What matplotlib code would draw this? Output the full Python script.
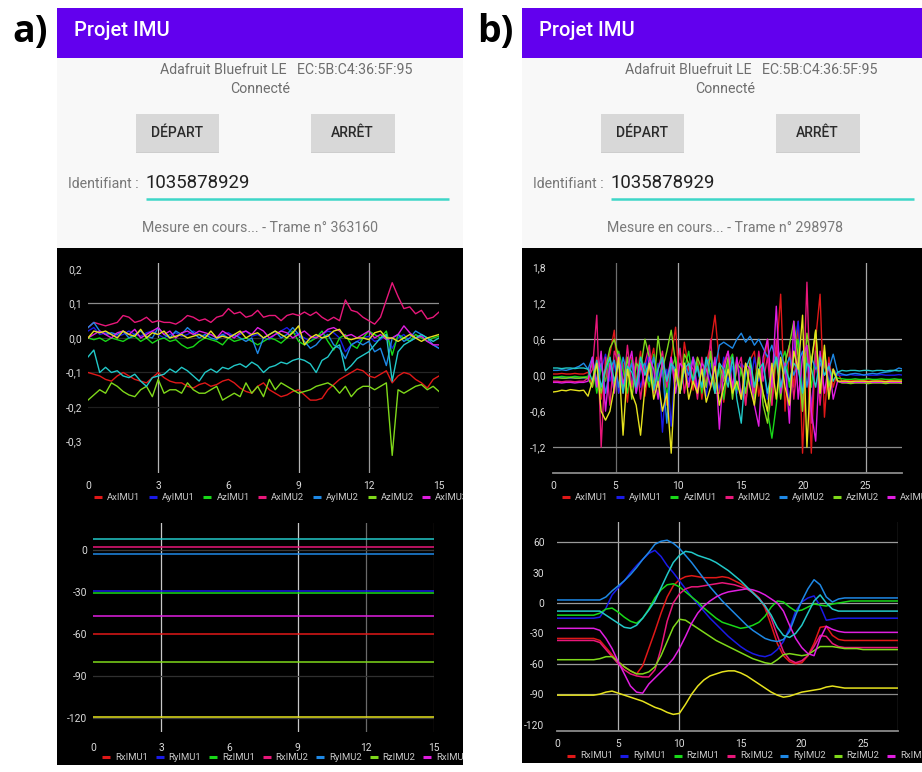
import numpy as np
import matplotlib
matplotlib.use("Agg")
import matplotlib.pyplot as plt
from matplotlib.patches import Rectangle

plt.rcParams['font.family'] = ['Roboto', 'DejaVu Sans']

# ---------------- data ----------------
acc_names = ["AxIMU1", "AyIMU1", "AzIMU1", "AxIMU2", "AyIMU2", "AzIMU2", "AxIMU3", "AyIMU3", "AzIMU3"]
rot_names = ["RxIMU1", "RyIMU1", "RzIMU1", "RxIMU2", "RyIMU2", "RzIMU2", "RxIMU3", "RyIMU3", "RzIMU3"]
series_colors = ['#E01818', '#1A1AE6', '#18D818', '#E8177A', '#1E88E5', '#7FD81A', '#E01EE0', '#22C8C8', '#E6E21E']

# panel a, accelerations (s, g), sampled every 0.25 s
a1_time = np.arange(61) * 0.25
a1_ax1 = [-0.100,-0.105,-0.110,-0.120,-0.125,-0.110,-0.100,-0.110,-0.120,-0.125,
          -0.130,-0.115,-0.100,-0.115,-0.125,-0.130,-0.130,-0.140,-0.145,-0.135,
          -0.130,-0.140,-0.135,-0.125,-0.120,-0.130,-0.145,-0.155,-0.160,-0.140,
          -0.130,-0.150,-0.160,-0.170,-0.165,-0.155,-0.150,-0.165,-0.180,-0.180,
          -0.175,-0.150,-0.135,-0.120,-0.110,-0.100,-0.090,-0.095,-0.110,-0.115,
          -0.105,-0.095,-0.130,-0.110,-0.100,-0.105,-0.120,-0.130,-0.145,-0.120,
          -0.110]
a1_ay1 = [0.020,0.030,0.010,0.015,0.010,0.005,0.010,0.020,0.010,0.005,
          0.015,0.020,0.010,0.000,0.010,0.015,0.005,0.010,0.020,0.010,
          0.005,0.010,0.000,0.010,0.015,0.005,0.010,0.020,0.005,0.010,
          0.000,-0.005,0.010,0.020,0.030,0.015,0.010,0.000,-0.010,0.005,
          0.010,0.020,0.015,0.000,-0.040,-0.020,-0.010,0.000,0.005,-0.010,
          -0.005,0.010,-0.030,0.000,0.010,-0.010,0.000,0.005,-0.010,-0.020,
          -0.030]
a1_az1 = [0.000,-0.005,0.000,-0.010,0.000,-0.005,-0.010,0.000,0.005,-0.010,
          0.000,-0.015,-0.005,0.000,-0.010,-0.005,-0.020,-0.030,-0.025,-0.010,
          0.000,-0.005,-0.010,-0.020,0.000,-0.010,-0.005,0.000,-0.010,-0.020,
          -0.010,0.000,-0.005,-0.015,0.000,0.020,-0.010,-0.020,-0.010,0.000,
          0.020,-0.010,-0.035,0.000,0.010,-0.020,-0.030,0.000,0.020,0.010,
          0.000,0.020,-0.050,0.010,0.000,-0.010,0.010,0.000,-0.010,0.000,
          0.005]
a1_ax2 = [0.030,0.045,0.040,0.035,0.040,0.045,0.065,0.060,0.045,0.050,
          0.060,0.045,0.050,0.045,0.045,0.040,0.050,0.065,0.060,0.050,
          0.055,0.045,0.060,0.065,0.085,0.070,0.075,0.060,0.065,0.080,
          0.060,0.065,0.065,0.050,0.065,0.070,0.065,0.075,0.065,0.075,
          0.060,0.050,0.060,0.050,0.110,0.080,0.075,0.060,0.050,0.040,
          0.060,0.110,0.160,0.120,0.085,0.090,0.070,0.080,0.055,0.060,
          0.075]
a1_ay2 = [0.030,0.045,0.020,0.010,0.015,0.010,0.020,0.000,0.010,0.020,
          0.005,0.000,0.030,0.010,0.000,0.020,0.010,0.030,0.015,0.000,
          0.010,0.000,-0.005,0.010,0.000,0.010,0.000,-0.010,0.000,-0.045,
          0.000,0.010,0.020,0.000,0.010,0.030,0.010,-0.010,-0.030,-0.020,
          0.000,0.010,-0.020,-0.030,-0.060,-0.020,-0.010,-0.020,-0.010,-0.040,
          -0.030,-0.080,0.000,0.010,-0.010,0.000,0.020,0.010,0.000,-0.020,
          -0.030]
a1_az2 = [-0.180,-0.165,-0.150,-0.160,-0.130,-0.140,-0.155,-0.165,-0.170,-0.150,
          -0.140,-0.170,-0.120,-0.160,-0.150,-0.150,-0.160,-0.130,-0.150,-0.160,
          -0.160,-0.150,-0.140,-0.180,-0.170,-0.160,-0.170,-0.130,-0.160,-0.140,
          -0.170,-0.120,-0.150,-0.130,-0.140,-0.150,-0.160,-0.155,-0.150,-0.140,
          -0.135,-0.130,-0.140,-0.160,-0.140,-0.170,-0.150,-0.140,-0.140,-0.150,
          -0.140,-0.130,-0.340,-0.150,-0.160,-0.150,-0.140,-0.135,-0.150,-0.140,
          -0.155]
a1_ax3 = [0.000,0.010,0.020,0.010,0.000,0.015,0.020,0.010,0.025,0.000,
          0.010,0.020,0.030,0.010,0.020,0.000,0.015,0.020,0.010,0.020,
          0.015,0.010,0.000,0.020,0.010,0.000,0.015,0.020,0.010,0.030,
          0.020,0.000,0.010,0.020,0.015,0.000,0.010,0.020,0.005,0.000,
          0.010,0.025,0.030,0.020,0.005,0.010,0.000,0.010,0.020,0.000,
          0.010,-0.005,0.000,0.010,0.035,0.015,0.000,0.005,-0.010,-0.020,
          -0.020]
a1_ay3 = [-0.055,-0.035,-0.100,-0.085,-0.100,-0.095,-0.110,-0.115,-0.105,-0.125,
          -0.140,-0.115,-0.110,-0.105,-0.090,-0.100,-0.085,-0.095,-0.110,-0.125,
          -0.100,-0.090,-0.100,-0.085,-0.090,-0.080,-0.075,-0.085,-0.070,-0.080,
          -0.100,-0.085,-0.080,-0.070,-0.075,-0.065,-0.060,-0.065,-0.075,-0.100,
          -0.065,-0.055,-0.030,-0.020,-0.095,-0.080,-0.060,-0.050,-0.040,-0.020,
          0.000,0.010,-0.125,-0.040,-0.020,-0.010,0.000,0.010,0.000,-0.010,
          0.000]
a1_az3 = [0.000,0.020,0.015,0.020,0.010,0.000,0.020,0.010,0.005,0.025,
          0.000,0.015,0.010,0.020,0.000,0.005,0.010,0.000,0.005,0.010,
          0.000,0.020,0.000,0.005,0.000,0.010,0.020,0.000,0.010,0.015,
          0.000,0.010,0.020,0.010,0.000,0.015,0.035,-0.020,0.000,0.010,
          0.000,0.005,0.020,0.025,0.000,-0.005,0.000,0.000,-0.005,0.015,
          0.020,0.000,0.000,-0.010,0.000,0.010,0.000,-0.010,0.000,0.005,
          0.010]

# panel a, rotations (constant, deg)
a2_time = [0, 15]
a2_levels = [-60, -29, -31, 2, -3, -80, -47, 8, -119]

# panel b, accelerations, sampled every 0.35 s
b1_time = np.arange(81) * 0.35
b1_ax1 = [0.02,0.02,0.03,0.02,0.02,0.03,0.02,0.02,0.05,
          -0.20,0.30,-0.40,0.10,0.35,0.75,-0.30,0.20,-0.45,0.30,-0.10,0.40,
          -0.35,0.15,0.45,-0.20,0.10,-0.50,0.30,0.80,-0.30,0.55,0.10,-0.25,
          0.30,-0.40,0.20,0.50,1.00,0.20,-0.45,0.10,0.35,-0.30,0.20,-0.50,
          0.25,0.40,-0.35,0.10,0.60,-0.50,0.30,1.35,-0.60,0.40,-0.20,0.90,
          -1.30,0.50,-1.30,0.60,1.35,-0.70,0.30,-0.20,0.05,
          -0.10,-0.08,-0.09,-0.08,-0.08,-0.09,-0.08,-0.08,-0.09,-0.08,-0.08,-0.09,-0.08,-0.08,-0.08]
b1_ay1 = [-0.05,-0.05,-0.04,-0.05,-0.05,-0.04,-0.05,-0.05,-0.03,
          0.25,-0.20,0.10,0.35,-0.10,0.20,-0.30,0.05,0.30,-0.15,0.20,-0.20,
          0.10,0.40,-0.10,0.20,-0.95,0.10,-0.85,0.20,-0.30,0.15,-0.10,0.30,
          -0.20,0.10,-0.35,0.20,0.05,-0.25,0.30,-0.10,0.15,-0.30,0.20,0.10,
          -0.20,0.30,-0.10,0.20,-0.40,0.10,0.30,-0.30,0.20,-0.50,0.40,0.90,
          -0.30,0.30,-0.50,0.20,-0.20,0.35,-0.10,0.10,0.00,
          0.00,0.00,0.01,0.00,0.00,0.01,0.00,0.00,0.00,0.01,0.00,0.00,0.00,0.01,0.00]
b1_az1 = [-0.03,-0.03,-0.02,-0.03,-0.03,-0.02,-0.03,-0.03,-0.02,
          0.20,-0.30,0.15,-0.10,0.30,-0.20,0.40,0.10,-0.30,0.25,-0.15,0.30,
          0.10,-0.20,0.35,-0.10,0.20,-0.35,0.10,0.30,-0.20,0.10,0.40,-0.15,
          0.20,-0.30,0.15,0.30,-0.20,0.10,-0.40,0.20,0.35,-0.25,0.10,-0.30,
          0.20,-0.40,0.10,-0.30,-0.60,-1.05,-0.50,0.20,0.40,-0.20,0.30,0.60,
          -0.40,0.30,-0.20,0.40,-0.30,0.20,-0.15,0.05,-0.05,
          -0.06,-0.07,-0.07,-0.06,-0.07,-0.07,-0.06,-0.07,-0.07,-0.06,-0.07,-0.07,-0.06,-0.07,-0.07]
b1_ax2 = [-0.10,-0.10,-0.11,-0.10,-0.10,-0.11,-0.10,-0.10,-0.05,
          0.10,1.00,-1.20,0.30,-0.50,0.40,0.20,-0.30,0.50,-0.20,0.30,-0.40,
          0.20,0.50,-0.30,0.10,0.40,-0.20,0.30,-0.10,0.45,-0.30,0.20,0.10,
          -0.40,0.30,-0.20,0.60,-0.30,-0.30,0.20,0.40,-0.30,0.10,0.30,-0.50,
          0.20,-0.30,0.40,-0.10,0.30,-0.50,0.60,-0.30,0.20,0.50,-0.40,0.30,
          -0.60,1.55,-0.80,0.40,-0.50,0.30,-0.30,0.10,-0.10,
          -0.12,-0.12,-0.13,-0.12,-0.12,-0.12,-0.13,-0.12,-0.12,-0.12,-0.13,-0.12,-0.12,-0.12,-0.12]
b1_ay2 = [0.08,0.08,0.09,0.08,0.10,0.12,0.15,0.20,0.10,
          0.30,-0.10,0.20,-0.30,0.10,0.25,-0.20,0.30,0.00,0.20,-0.30,0.10,
          0.20,-0.10,0.30,-0.20,0.10,-0.80,0.20,0.10,-0.30,0.20,0.00,0.30,
          0.10,-0.20,0.20,0.30,0.10,0.50,0.55,0.50,0.45,0.60,0.70,0.55,
          0.65,0.50,0.60,0.45,0.30,0.50,0.20,0.40,0.10,0.30,0.00,0.20,
          0.40,-0.20,0.30,0.10,0.20,0.00,0.10,0.35,0.05,
          0.02,0.00,0.02,0.03,0.02,0.00,0.02,0.03,0.02,0.04,0.05,0.06,0.08,0.12,0.10]
b1_az2 = [-0.05,-0.04,-0.05,-0.05,-0.04,-0.05,-0.05,-0.04,-0.05,
          -0.20,0.20,-0.30,0.10,0.45,0.60,0.30,-0.20,0.30,-0.40,0.20,0.10,
          0.60,0.30,-0.20,0.65,0.10,0.40,0.75,0.20,-0.30,0.35,0.20,-0.10,
          0.30,0.10,-0.20,0.40,-0.30,0.20,-0.10,0.30,-0.40,0.20,0.10,-0.30,
          0.20,-0.20,0.30,-0.50,-0.80,-0.20,0.30,-0.40,0.20,0.50,0.90,0.30,
          -0.60,0.70,0.20,0.75,-0.30,0.40,-0.20,0.10,-0.10,
          -0.13,-0.13,-0.14,-0.13,-0.13,-0.13,-0.14,-0.13,-0.13,-0.13,-0.14,-0.13,-0.13,-0.13,-0.14]
b1_ax3 = [-0.12,-0.12,-0.13,-0.12,-0.12,-0.13,-0.12,-0.12,-0.10,
          0.30,-0.20,0.40,-0.60,0.20,-0.30,0.35,-0.15,0.10,0.40,-0.30,0.20,
          -0.20,0.30,0.10,-0.40,0.25,-0.10,0.30,-0.30,0.20,0.10,-0.20,0.30,
          -0.30,0.20,0.10,-0.20,0.30,-0.90,0.10,0.40,-0.20,0.30,-0.40,0.20,
          0.10,-0.50,-0.85,0.30,0.60,-0.20,1.15,-0.30,0.20,-0.80,0.90,-0.40,
          0.30,0.50,-0.60,-1.10,0.40,-0.30,0.20,-0.40,-0.10,
          -0.12,-0.12,-0.11,-0.12,-0.12,-0.12,-0.11,-0.12,-0.12,-0.12,-0.11,-0.12,-0.12,-0.12,-0.12]
b1_ay3 = [0.12,0.12,0.11,0.12,0.12,0.11,0.12,0.12,0.10,
          -0.10,0.25,-0.20,0.10,0.30,-0.10,0.20,-0.30,0.15,0.05,-0.20,0.30,
          0.00,0.20,-0.25,0.10,0.30,-0.10,0.20,0.05,-0.30,0.10,0.20,-0.10,
          0.15,-0.20,0.30,0.00,-0.30,0.20,0.10,-0.20,0.30,-0.40,-0.80,0.10,
          0.30,-0.20,0.10,0.20,-0.30,0.10,0.30,-0.20,0.15,-0.10,0.20,0.10,
          -0.30,0.20,0.10,-0.20,0.30,0.00,0.15,-0.10,0.05,
          0.08,0.07,0.08,0.08,0.07,0.08,0.08,0.07,0.08,0.08,0.07,0.08,0.08,0.07,0.08]
b1_az3 = [-0.28,-0.27,-0.25,-0.26,-0.24,-0.25,-0.26,-0.25,-0.35,
          -0.10,0.20,-0.60,-0.75,-0.60,-0.20,0.30,-1.00,0.10,-0.30,-0.50,-1.00,
          -0.20,0.20,-0.40,-0.10,-0.60,-0.30,-1.30,0.10,-0.30,0.20,-0.40,-0.10,
          -0.30,0.10,-0.45,-0.20,0.15,-0.50,-0.20,0.10,-0.30,-0.10,-0.40,0.20,
          -0.20,-0.50,0.10,-0.30,-0.60,0.20,-0.40,0.30,-0.20,-0.50,0.40,0.10,
          1.00,-1.20,0.20,0.75,-0.30,0.50,-0.40,0.10,-0.10,
          -0.10,-0.10,-0.11,-0.10,-0.10,-0.10,-0.11,-0.10,-0.10,-0.10,-0.11,-0.10,-0.10,-0.10,-0.10]

# panel b, rotations (deg), sampled every 0.5 s
b2_time = np.arange(57) * 0.5
b2_rx1 = [-35,-35,-35,-35,-35,-35,-35,-37,-44,-51,-58,-63,-67,-70,-62,-45,-28,-10,6,17,
          23,26,27,26,25,25,25,26,25,22,19,15,11,5,-5,-22,-40,-52,-58,-60,
          -59,-52,-40,-24,-23,-32,-36,-37,-37,-37,-37,-37,-37,-37,-37,-37,-37]
b2_ry1 = [-15,-15,-15,-15,-15,-15,-15,-14,-5,8,15,22,30,37,43,49,52,46,37,30,
          22,14,6,-1,-8,-15,-21,-27,-33,-38,-43,-47,-50,-52,-53,-51,-46,-38,-25,-8,
          1,5,7,-3,-17,-16,-15,-15,-15,-15,-15,-15,-15,-15,-15,-15,-15]
b2_rz1 = [-12,-12,-12,-12,-12,-12,-12,-10,-6,-5,-9,-14,-18,-20,-15,-6,5,13,18,19,
          16,11,6,1,-5,-10,-15,-19,-21,-23,-25,-24,-22,-19,-13,-4,2,1,-4,-8,
          -7,-4,-1,-2,-3,-1,0,1,2,2,2,2,2,2,2,2,2]
b2_rx2 = [-37,-37,-37,-37,-37,-37,-37,-39,-46,-53,-60,-66,-70,-72,-73,-73,-66,-45,-18,0,
          9,14,16,16,17,18,19,20,19,18,16,14,10,5,-3,-15,-32,-48,-56,-59,
          -57,-52,-43,-32,-33,-40,-43,-44,-44,-44,-44,-44,-44,-44,-44,-44,-44]
b2_ry2 = [3,3,3,3,3,3,3,3,6,12,17,22,28,35,43,50,58,61,62,59,
          54,47,40,32,24,16,9,2,-4,-10,-16,-22,-27,-31,-35,-37,-38,-36,-28,-12,
          2,14,23,18,6,1,4,5,5,5,5,5,5,5,5,5,5]
b2_rz2 = [-56,-56,-56,-56,-56,-56,-56,-55,-53,-53,-58,-63,-67,-70,-70,-68,-63,-52,-38,-24,
          -16,-17,-21,-25,-29,-33,-37,-40,-43,-46,-49,-52,-55,-57,-59,-60,-56,-51,-50,-51,
          -52,-51,-47,-43,-43,-43,-44,-45,-45,-45,-46,-46,-46,-46,-46,-46,-46]
b2_rx3 = [-25,-25,-25,-25,-25,-25,-25,-27,-35,-45,-58,-70,-82,-88,-89,-80,-74,-68,-62,-55,
          -45,-33,-20,-10,-3,2,6,9,11,12,13,14,13,11,8,4,0,-8,-22,-35,
          -44,-50,-52,-35,-23,-26,-28,-29,-29,-29,-29,-29,-29,-29,-29,-29,-29]
b2_ry3 = [-8,-8,-8,-8,-8,-8,-8,-8,-12,-16,-20,-24,-25,-22,-15,-7,2,15,28,40,
          47,51,50,47,45,43,40,36,32,27,22,16,10,4,-3,-12,-24,-32,-34,-30,
          -22,-10,2,8,0,-6,-8,-8,-8,-8,-8,-8,-8,-8,-8,-8,-8]
b2_rz3 = [-91,-91,-91,-91,-91,-91,-91,-90,-88,-87,-89,-91,-93,-95,-97,-100,-103,-105,-108,-110,
          -109,-100,-90,-82,-76,-72,-70,-68,-67,-67,-69,-72,-76,-80,-84,-88,-91,-93,-92,-90,
          -88,-87,-86,-85,-83,-82,-83,-84,-84,-84,-84,-84,-84,-84,-84,-84,-84]

a1_series = [a1_ax1, a1_ay1, a1_az1, a1_ax2, a1_ay2, a1_az2, a1_ax3, a1_ay3, a1_az3]
b1_series = [b1_ax1, b1_ay1, b1_az1, b1_ax2, b1_ay2, b1_az2, b1_ax3, b1_ay3, b1_az3]
b2_series = [b2_rx1, b2_ry1, b2_rz1, b2_rx2, b2_ry2, b2_rz2, b2_rx3, b2_ry3, b2_rz3]

a_xticks = [0, 3, 6, 9, 12, 15]
b_xticks = [0, 5, 10, 15, 20, 25]
a1_yticks = [0.2, 0.1, 0.0, -0.1, -0.2, -0.3]
a1_ylabels = ["0,2", "0,1", "0,0", "-0,1", "-0,2", "-0,3"]
a2_yticks = [0, -30, -60, -90, -120]
b1_yticks = [1.8, 1.2, 0.6, 0.0, -0.6, -1.2]
b1_ylabels = ["1,8", "1,2", "0,6", "0,0", "-0,6", "-1,2"]
b2_yticks = [60, 30, 0, -30, -60, -90, -120]

# ---------------- figure ----------------
W, H = 922, 772
fig = plt.figure(figsize=(W / 100, H / 100), dpi=100, facecolor='white')


def fbox(x0, y0, x1, y1):
    return [x0 / W, 1 - y1 / H, (x1 - x0) / W, (y1 - y0) / H]


def screen(x0, x1, bottom, frame_no):
    sa = fig.add_axes(fbox(x0, 8, x1, bottom))
    sa.set_xlim(x0, x1)
    sa.set_ylim(bottom, 8)
    sa.axis('off')
    sa.add_patch(Rectangle((x0, 8), x1 - x0, 50, color='#6200EE', lw=0))
    sa.add_patch(Rectangle((x0, 58), x1 - x0, 190, color='#F8F8F8', lw=0))
    sa.add_patch(Rectangle((x0, 248), x1 - x0, bottom - 248, color='black', lw=0))
    sa.text(x0 + 17, 31, "Projet IMU", color='white', fontsize=14.5, fontweight='medium',
            va='center', ha='left', clip_on=True)
    sa.text(x0 + 229, 70, "Adafruit Bluefruit LE   EC:5B:C4:36:5F:95", color='#6e6e6e',
            fontsize=10.2, va='center', ha='center', clip_on=True)
    sa.text(x0 + 203, 89, "Connecté", color='#6e6e6e', fontsize=10.2, va='center',
            ha='center', clip_on=True)
    for bx0, bx1, lab in [(x0 + 78.5, x0 + 161.5, "DÉPART"), (x0 + 253.5, x0 + 337.5, "ARRÊT")]:
        sa.add_patch(Rectangle((bx0 + 0.5, 115), bx1 - bx0, 38, color='#CDCDCD', lw=0))
        sa.add_patch(Rectangle((bx0, 114), bx1 - bx0, 38, color='#D8D8D8', lw=0))
        sa.text((bx0 + bx1) / 2, 133, lab, color='#2a2a2a', fontsize=10, fontweight='medium',
                va='center', ha='center', clip_on=True)
    sa.text(x0 + 11, 184, "Identifiant :", color='#777777', fontsize=10.2, va='center',
            ha='left', clip_on=True)
    sa.text(x0 + 88.5, 183, "1035878929", color='#222222', fontsize=13.4, va='center',
            ha='left', clip_on=True)
    sa.plot([x0 + 88.5, x0 + 392], [199, 199], color='#3ED6C8', lw=1.8, clip_on=True,
            solid_capstyle='butt')
    sa.text(x0 + 203, 228, "Mesure en cours... - Trame n° " + frame_no, color='#7a7a7a',
            fontsize=10.2, va='center', ha='center', clip_on=True)
    return sa


def legend(sa, names, x_start, spacing, y, x_right):
    for i, (n, c) in enumerate(zip(names, series_colors)):
        x = x_start + i * spacing
        if x >= x_right:
            break  # entries beyond the screen edge are not shown
        sa.plot([x, x + 8], [y, y], color=c, lw=2.2, solid_capstyle='butt', clip_on=True)
        sa.text(x + 13, y, n, color='#c8c8c8', fontsize=6.8, va='center', ha='left',
                clip_on=True)


def chart(box, xlim, ylim, xticks, yticks, ylabels, xpad, ypad, vgrid, hgrid, bottom_line):
    ax = fig.add_axes(fbox(*box))
    ax.set_facecolor('black')
    ax.set_xlim(*xlim)
    ax.set_ylim(*ylim)
    for s in ax.spines.values():
        s.set_visible(False)
    ax.set_xticks(xticks)
    ax.set_xticklabels([str(v) for v in xticks])
    ax.set_yticks(yticks)
    ax.set_yticklabels(ylabels)
    ax.tick_params(length=0, labelcolor='#dcdcdc', labelsize=7.4)
    ax.tick_params(axis='x', pad=xpad)
    ax.tick_params(axis='y', pad=ypad)
    for v, c in vgrid:
        ax.axvline(v, color=c, lw=0.9, zorder=1)
    for v, c in hgrid:
        ax.axhline(v, color=c, lw=0.9, zorder=1)
    if bottom_line:
        ax.axhline(ylim[0], color='#8a8a8a', lw=1.3, zorder=1, clip_on=False)
    return ax


# panel labels
fig.text(30 / W, 1 - 32 / H, "a)", fontsize=27, fontweight='bold', family='Open Sans',
         ha='center', va='center', color='black')
fig.text(495 / W, 1 - 32 / H, "b)", fontsize=27, fontweight='bold', family='Open Sans',
         ha='center', va='center', color='black')

sa_a = screen(57, 463, 765, "363160")
sa_b = screen(522, 922, 763, "298978")

legend(sa_a, acc_names, 94, 54.7, 497, 463)
legend(sa_a, rot_names, 102, 53.5, 757, 463)
legend(sa_b, acc_names, 562, 54.2, 497, 922)
legend(sa_b, rot_names, 567, 53.3, 756, 922)

# chart a1
ax = chart((88, 263, 439, 473), (0, 15), (-0.391, 0.217), a_xticks, a1_yticks, a1_ylabels,
           6, 4,
           [(3, '#b5b5b5'), (9, '#b5b5b5'), (12, '#9a9a9a')],
           [(0.1, '#8c8c8c'), (0.0, '#2c2c2c'), (-0.1, '#262626'), (-0.2, '#1e1e1e')], False)
for ys, c in zip(a1_series, series_colors):
    ax.plot(a1_time, ys, color=c, lw=1.0, zorder=3)

# chart a2
ax = chart((93, 523, 434, 732), (0, 15), (-130, 19.3), a_xticks, a2_yticks,
           [str(v) for v in a2_yticks], 8, 4,
           [(3, '#c8c8c8'), (9, '#c8c8c8'), (12, '#6a6a6a'), (15, '#4a3a30')],
           [(0, '#3a3a3a'), (-90, '#303030'), (-120, '#3a3a3a')], False)
for lvl, c in zip(a2_levels, series_colors):
    ax.plot(a2_time, [lvl, lvl], color=c, lw=1.3, alpha=0.85, zorder=3)

# chart b1
ax = chart((553, 263, 902, 473), (0, 27.9), (-1.63, 1.87), b_xticks, b1_yticks, b1_ylabels,
           6, 5,
           [(5, '#6e6e6e'), (10, '#a8a8a8'), (25, '#a8a8a8')],
           [(0.6, '#b0b0b0'), (-1.2, '#8a8a8a')], True)
for ys, c in zip(b1_series, series_colors):
    ax.plot(b1_time, ys, color=c, lw=1.0, zorder=3)

# chart b2
ax = chart((557, 522, 898, 731), (0, 27.86), (-126.4, 80), b_xticks, b2_yticks,
           [str(v) for v in b2_yticks], 6, 9,
           [(5, '#b0b0b0'), (10, '#b0b0b0'), (27.86, '#7a7a7a')],
           [(60, '#9a9a9a'), (0, '#9a9a9a'), (-60, '#9a9a9a'), (-90, '#8a8a8a')], True)
for ys, c in zip(b2_series, series_colors):
    ax.plot(b2_time, ys, color=c, lw=1.1, zorder=3)

fig.savefig("out.png", dpi=100, facecolor='white')
